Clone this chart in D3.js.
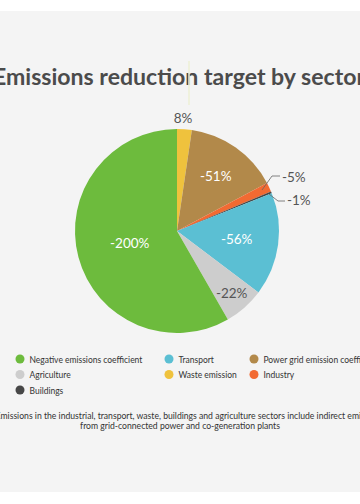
<!DOCTYPE html>
<html>
<head>
<meta charset="utf-8">
<script src="https://cdn.jsdelivr.net/npm/d3@7"></script>
<style>
html,body{margin:0;padding:0;background:#fff;overflow:hidden;}
svg{display:block;}
</style>
</head>
<body>
<svg id="chart" width="360" height="504"></svg>
<script>
// ---- data ----
const categories = ["Waste emission","Power grid emission coefficient","Industry","Buildings","Transport","Agriculture","Negative emissions coefficient"];
const values = [8,-51,-5,-1,-56,-22,-200];
const colors = ["#efc23d","#b2894a","#f26a32","#474747","#5bbfd3","#cdcdcd","#6dbb3d"];
const legendOrder = ["Negative emissions coefficient","Transport","Power grid emission coefficient","Agriculture","Waste emission","Industry","Buildings"];
const title = "Emissions reduction target by sector";
const footnote = ["Emissions in the industrial, transport, waste, buildings and agriculture sectors include indirect emissions",
                  "from grid-connected power and co-generation plants"];

const W = 360, H = 504;
const svg = d3.select("#chart");
svg.append("rect").attr("width",W).attr("height",H).attr("fill","#fff");
svg.append("rect").attr("x",0).attr("y",11).attr("width",W).attr("height",481).attr("fill","#f4f4f4");

const font = "Lato, 'Open Sans', sans-serif";

function fit(sel, target){
  const n = sel.node();
  const fs = parseFloat(sel.attr("font-size"));
  const w = n.getComputedTextLength();
  const nf = fs*target/w;
  sel.attr("font-size", nf.toFixed(2));
  return nf;
}
function measure(txt, fs, weight){
  const p = svg.append("text").attr("font-family",font).attr("font-size",fs)
    .attr("font-weight",weight||400).text(txt);
  const w = p.node().getComputedTextLength();
  p.remove();
  return w;
}

// title
const t = svg.append("text").attr("x",179).attr("y",85).attr("text-anchor","middle")
  .attr("font-family",font).attr("font-weight",700).attr("font-size",22).attr("fill","#4b4b4b").text(title);
fit(t, 372);

// pie
const cx = 177, cy = 231, R = 102;
const data = categories.map((c,i)=>({cat:c, value:values[i], color:colors[i]}));
const pie = d3.pie().sort(null).value(d=>Math.abs(d.value)).startAngle(0).endAngle(2*Math.PI);
const arcs = pie(data);
const arc = d3.arc().innerRadius(0).outerRadius(R);
const g = svg.append("g").attr("transform",`translate(${cx},${cy})`);

// faint leader for waste label
g.append("line").attr("x1",12).attr("x2",12).attr("y1",-170).attr("y2",-126)
  .attr("stroke","#eef0d6").attr("stroke-width",1.5);

g.selectAll("path.slice").data(arcs).join("path").attr("class","slice")
  .attr("d",arc).attr("fill",d=>d.data.color);

// label layout (positions relative to centre)
const labelCfg = {
  "Negative emissions coefficient": {r:0.48, fill:"#fff"},
  "Power grid emission coefficient": {r:0.66, fill:"#fff"},
  "Transport": {r:0.59, fill:"#fff"},
  "Agriculture": {r:0.81, fill:"#555"},
  "Waste emission": {pos:[6,-113], anchor:"middle", fill:"#555"},
  "Industry": {line:[[85,-41],[95,-55],[103,-55]], pos:[105,-54], anchor:"start", fill:"#555"},
  "Buildings": {line:[[92,-37],[101,-30],[108,-30]], pos:[110,-31], anchor:"start", fill:"#555"}
};
const lab = g.append("g").attr("font-family",font).attr("font-size",13.5);
arcs.forEach(a=>{
  const cfg = labelCfg[a.data.cat];
  const txt = a.data.value + "%";
  let x, y, anchor = "middle";
  if (cfg.pos){ [x,y] = cfg.pos; anchor = cfg.anchor; }
  else {
    const m = (a.startAngle+a.endAngle)/2;
    x = Math.sin(m)*R*cfg.r; y = -Math.cos(m)*R*cfg.r;
  }
  if (cfg.line){
    lab.append("path").attr("d", d3.line()(cfg.line))
      .attr("fill","none").attr("stroke","#666").attr("stroke-width",0.8);
  }
  lab.append("text").attr("x",x).attr("y",y).attr("dy","0.35em").attr("text-anchor",anchor)
    .attr("fill",cfg.fill).text(txt);
});

// legend (slightly condensed to match the narrow original face)
const colX = [20,169,254];
const rowY = [359,374.5,390];
const LFS = 10;
const lsx = 113 / measure(legendOrder[0], LFS);
const leg = svg.append("g").attr("font-family",font).attr("font-size",LFS).attr("fill","#333");
legendOrder.forEach((c,i)=>{
  const col = i%3, row = Math.floor(i/3);
  const color = colors[categories.indexOf(c)];
  leg.append("circle").attr("cx",colX[col]).attr("cy",rowY[row]).attr("r",4.5).attr("fill",color);
  leg.append("text").attr("transform",`translate(${colX[col]+9.5},${rowY[row]}) scale(${lsx},1)`)
    .attr("dy","0.35em").text(c);
});

// footnote
const FFS = 9.2;
const fsx = 200 / measure(footnote[1], FFS);
svg.append("text").attr("transform",`translate(180,426) scale(${fsx},1)`).attr("dy","0.35em")
  .attr("text-anchor","middle").attr("font-family",font).attr("font-size",FFS).attr("fill","#333").text(footnote[1]);
const f1 = svg.append("text").attr("dy","0.35em").attr("text-anchor","start")
  .attr("font-family",font).attr("font-size",FFS).attr("fill","#333").text(footnote[0]);
const eW = f1.node().getSubStringLength(0,1)*fsx;
f1.attr("transform",`translate(${0.5-eW},415.5) scale(${fsx},1)`);
</script>
</body>
</html>
